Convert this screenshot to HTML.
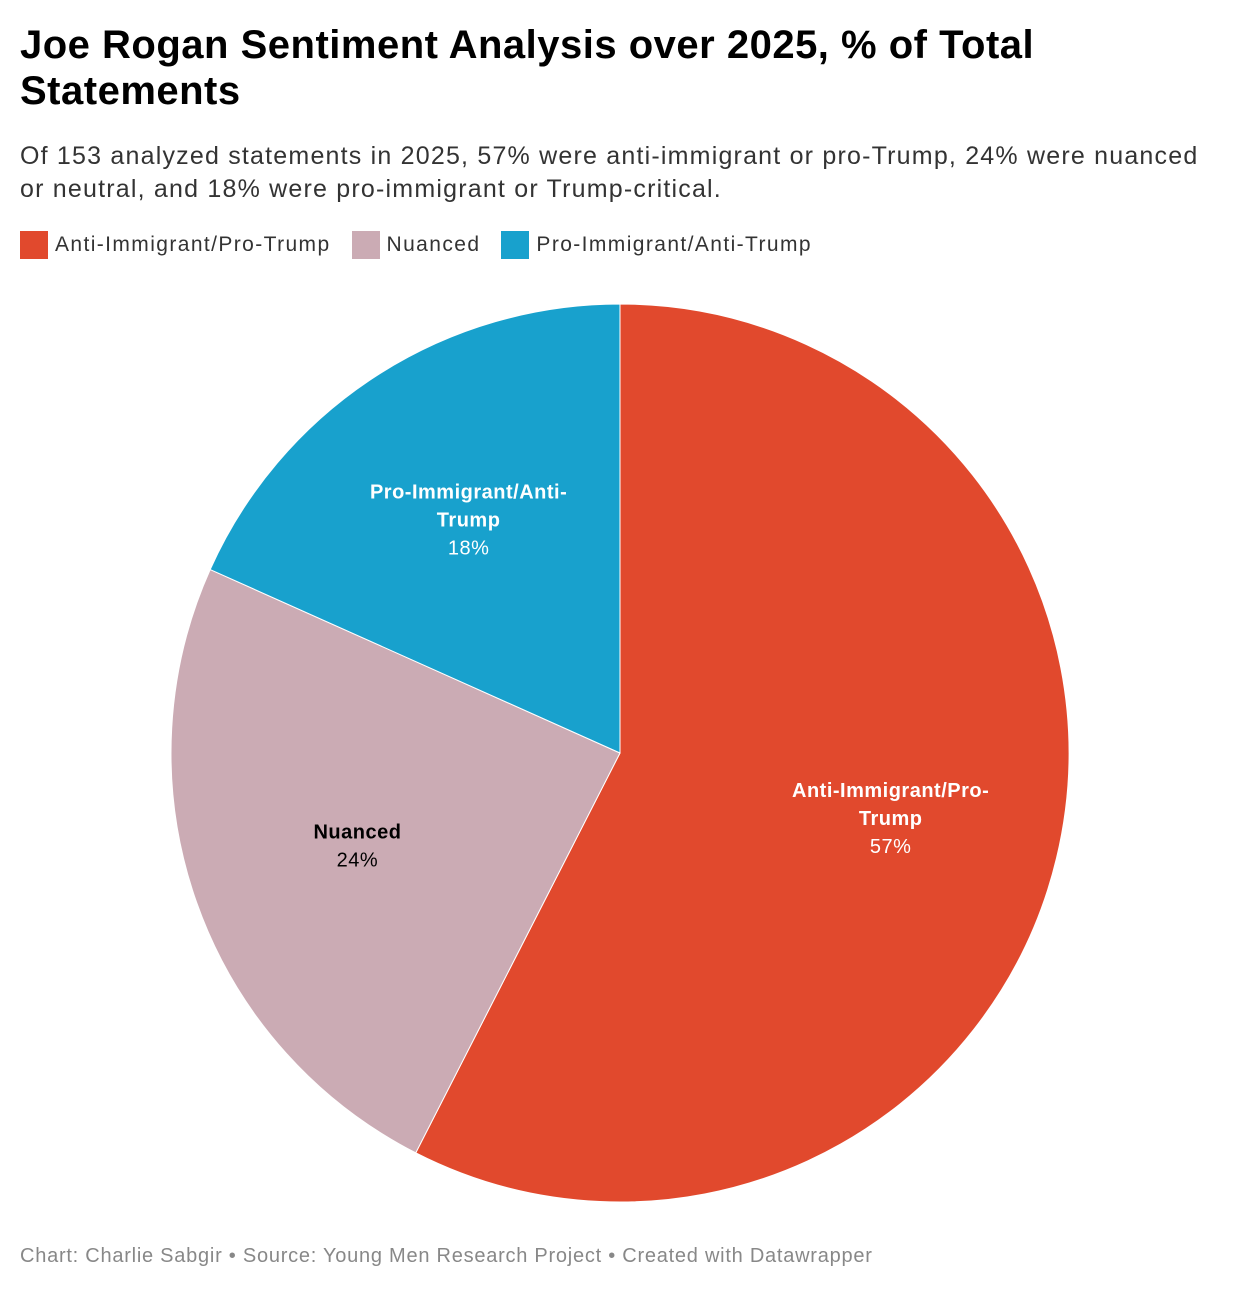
<!DOCTYPE html>
<html><head><meta charset="utf-8">
<style>
body{margin:0;background:#fff;font-family:"Liberation Sans",sans-serif;}
#wrap{position:relative;width:1240px;height:1290px;overflow:hidden;}
h1{position:absolute;left:20px;top:22px;margin:0;font-size:40px;line-height:46px;font-weight:bold;color:#000;width:1220px;letter-spacing:0.5px;}
.sub{position:absolute;left:20px;top:140px;font-size:25px;line-height:33px;color:#333;width:1230px;letter-spacing:1.2px;}
.legend{position:absolute;left:20px;top:231px;font-size:21px;color:#333;display:flex;gap:21px;letter-spacing:1.4px;}
.li{display:flex;align-items:center;}
.sw{width:28px;height:28px;margin-right:7px;display:inline-block;}
.foot{position:absolute;left:20px;top:1245px;font-size:20px;color:#888;letter-spacing:0.75px;}
svg{position:absolute;left:0;top:0;}
</style></head><body>
<div id="wrap">
<h1>Joe Rogan Sentiment Analysis over 2025, % of Total<br>Statements</h1>
<div class="sub">Of 153 analyzed statements in 2025, 57% were anti-immigrant or pro-Trump, 24% were nuanced<br>or neutral, and 18% were pro-immigrant or Trump-critical.</div>
<div class="legend">
<div class="li"><span class="sw" style="background:#e1492d"></span>Anti-Immigrant/Pro-Trump</div>
<div class="li"><span class="sw" style="background:#cbabb4"></span>Nuanced</div>
<div class="li"><span class="sw" style="background:#18a1cd"></span>Pro-Immigrant/Anti-Trump</div>
</div>
<svg id="pie" width="1240" height="1290"></svg>
<div class="foot">Chart: Charlie Sabgir • Source: Young Men Research Project • Created with Datawrapper</div>
</div>
<script>
const categories=["Anti-Immigrant/Pro-Trump","Nuanced","Pro-Immigrant/Anti-Trump"];
const labelLines=[["Anti-Immigrant/Pro-","Trump"],["Nuanced"],["Pro-Immigrant/Anti-","Trump"]];
const values=[88,37,28];
const percentLabels=["57%","24%","18%"];
const colors=["#e1492d","#cbabb4","#18a1cd"];
const textColors=["#fff","#000","#fff"];
const svg=document.getElementById('pie');
const NS='http://www.w3.org/2000/svg';
const cx=620,cy=753,r=449;
const total=values.reduce((a,b)=>a+b,0);
function pt(a,rad){return [cx+Math.sin(a)*rad,cy-Math.cos(a)*rad];}
let acc=0;
values.forEach((v,i)=>{
  const a0=acc/total*2*Math.PI; acc+=v; const a1=acc/total*2*Math.PI;
  const p0=pt(a0,r),p1=pt(a1,r);
  const large=(a1-a0)>Math.PI?1:0;
  const path=document.createElementNS(NS,'path');
  path.setAttribute('d',`M${cx},${cy}L${p0[0]},${p0[1]}A${r},${r} 0 ${large} 1 ${p1[0]},${p1[1]}Z`);
  path.setAttribute('fill',colors[i]);
  path.setAttribute('stroke','#fff');
  path.setAttribute('stroke-width','1');
  
  
  svg.appendChild(path);
});
acc=0;
values.forEach((v,i)=>{
  const a0=acc/total*2*Math.PI; acc+=v; const a1=acc/total*2*Math.PI;
  const m=pt((a0+a1)/2,r*0.62);
  const lines=labelLines[i].concat([percentLabels[i]]);
  const h=28;
  const startY=m[1]-(lines.length-1)*h/2+7;
  const t=document.createElementNS(NS,'text');
  t.setAttribute('text-anchor','middle');
  t.setAttribute('font-size','20');
  t.setAttribute('letter-spacing','0.5');
  t.setAttribute('fill',textColors[i]);
  t.setAttribute('font-family','"Liberation Sans",sans-serif');
  
  
  lines.forEach((ln,j)=>{
    const s=document.createElementNS(NS,'tspan');
    s.setAttribute('x',m[0]);
    s.setAttribute('y',startY+j*h);
    if(j<lines.length-1)s.setAttribute('font-weight','bold');
    s.textContent=ln;
    t.appendChild(s);
  });
  svg.appendChild(t);
});
</script>
</body></html>
